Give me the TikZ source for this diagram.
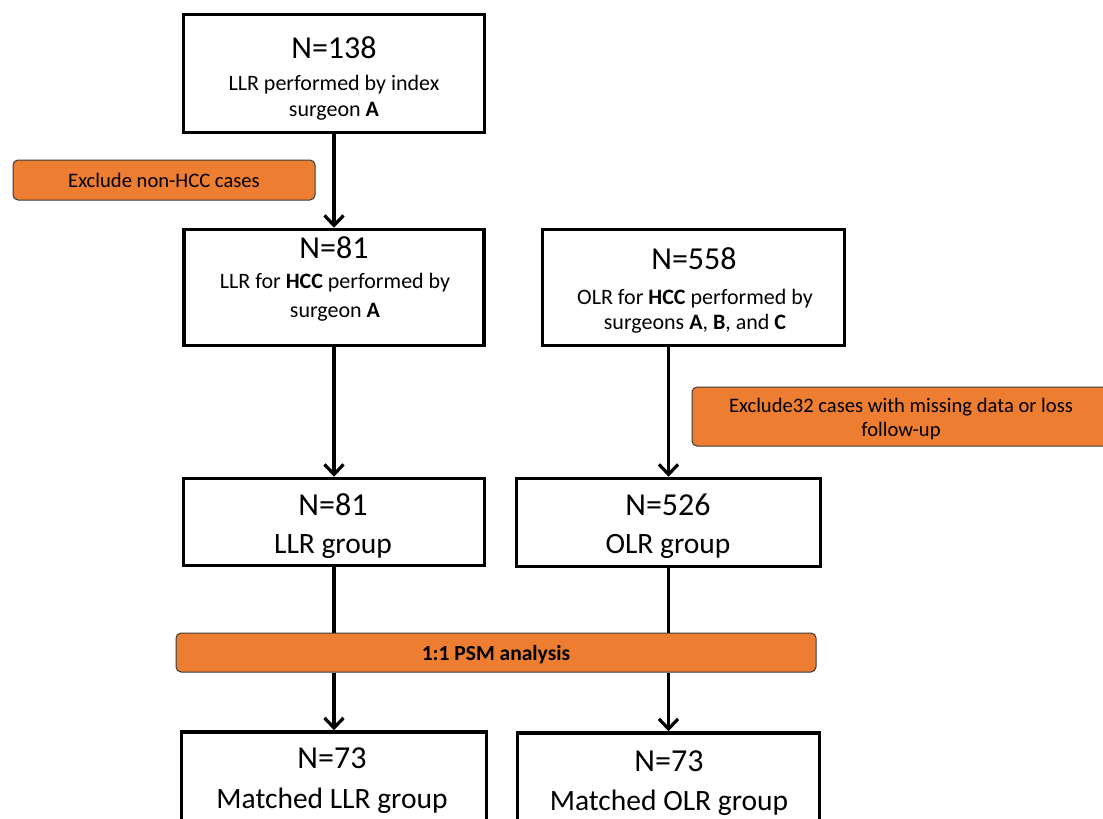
\documentclass[tikz,border=0pt]{standalone}
\usepackage{fontspec}
\setmainfont{Carlito}
\usetikzlibrary{arrows.meta}
\definecolor{orangefill}{HTML}{ED7D31}
\definecolor{orangeedge}{HTML}{3A3A3A}
\tikzset{
  box/.style={draw=black, line width=3.5pt, inner sep=0pt, fill=white},
  obox/.style={draw=orangeedge, line width=1pt, rounded corners=5pt, fill=orangefill, inner sep=0pt},
  bigtxt/.style={anchor=base, inner sep=0pt, font=\fontsize{32}{36}\selectfont},
  subtxt/.style={anchor=base, inner sep=0pt, font=\fontsize{22}{26}\selectfont},
  grptxt/.style={anchor=base, inner sep=0pt, font=\fontsize{29.5}{34}\selectfont},
  otxt/.style={anchor=base, inner sep=0pt, font=\fontsize{20.6}{24}\selectfont},
  psmtxt/.style={anchor=base, inner sep=0pt, font=\fontsize{21.5}{24}\selectfont\bfseries},
  conn/.style={line width=3.2pt},
  arr/.style={line width=3.2pt, -{Straight Barb[length=10pt,width=19pt]}},
}
\begin{document}
\begin{tikzpicture}[x=1pt,y=-1pt]
\useasboundingbox (0,0) rectangle (1103,819);
\fill[white] (0,0) rectangle (1103,819);
\clip (0,0) rectangle (1103,819);

% boxes
\node[box, minimum width=301pt, minimum height=118pt] (b1) at (334,73.5) {};
\node[box, minimum width=300pt, minimum height=116pt] (b2) at (334,287.5) {};
\node[box, minimum width=302pt, minimum height=116pt] (b3) at (693.5,287.5) {};
\node[box, minimum width=301pt, minimum height=87pt] (b4) at (334,522) {};
\node[box, minimum width=304pt, minimum height=88pt] (b5) at (668.5,522.5) {};
\node[box, minimum width=305pt, minimum height=116pt] (b6) at (334,790) {};
\node[box, minimum width=302pt, minimum height=116pt] (b7) at (668.5,791) {};

% orange boxes
\node[obox, minimum width=302pt, minimum height=40pt] (o1) at (164,180) {};
\node[obox, minimum width=418pt, minimum height=59pt] (o2) at (901,416.5) {};
\node[obox, minimum width=640pt, minimum height=39pt] (psm) at (496,652.5) {};

% texts
\node[bigtxt] (t1a) at (334,58) {N=138};
\node[subtxt] (t1b) at (334,90) {LLR performed by index};
\node[subtxt] (t1c) at (334,116) {surgeon \textbf{A}};

\node[bigtxt] (t2a) at (334,258) {N=81};
\node[subtxt] (t2b) at (335,288) {LLR for \textbf{HCC} performed by};
\node[subtxt] (t2c) at (335,317) {surgeon \textbf{A}};

\node[bigtxt] (t3a) at (694,269) {N=558};
\node[subtxt] (t3b) at (695,304) {OLR for \textbf{HCC} performed by};
\node[subtxt] (t3c) at (695,329) {surgeons \textbf{A}, \textbf{B}, and \textbf{C}};

\node[bigtxt] (t4a) at (333,515) {N=81};
\node[grptxt] (t4b) at (333,553) {LLR group};

\node[bigtxt] (t5a) at (668,515) {N=526};
\node[grptxt] (t5b) at (668,553) {OLR group};

\node[bigtxt] (t6a) at (332,768) {N=73};
\node[grptxt] (t6b) at (332,808) {Matched LLR group};

\node[bigtxt] (t7a) at (669,771) {N=73};
\node[grptxt] (t7b) at (669,810) {Matched OLR group};

\node[otxt] (to1) at (164,187) {Exclude non-HCC cases};
\node[otxt] (to2a) at (901,412) {Exclude32 cases with missing data or loss};
\node[otxt] (to2b) at (901,436) {follow-up};
\node[psmtxt] (tpsm) at (496,660) {1:1 PSM analysis};

% connectors
\draw[arr] (b1.south) -- (b2.north);
\draw[arr] (b2.south) -- (b4.north);
\draw[arr] (b3.south -| b5.north) -- (b5.north);
\draw[conn] (b4.south) -- (psm.north -| b4.south);
\draw[conn] (b5.south) -- (psm.north -| b5.south);
\draw[arr] (psm.south -| b6.north) -- (b6.north);
\draw[arr] (psm.south -| b7.north) -- (b7.north);
\end{tikzpicture}
\end{document}
